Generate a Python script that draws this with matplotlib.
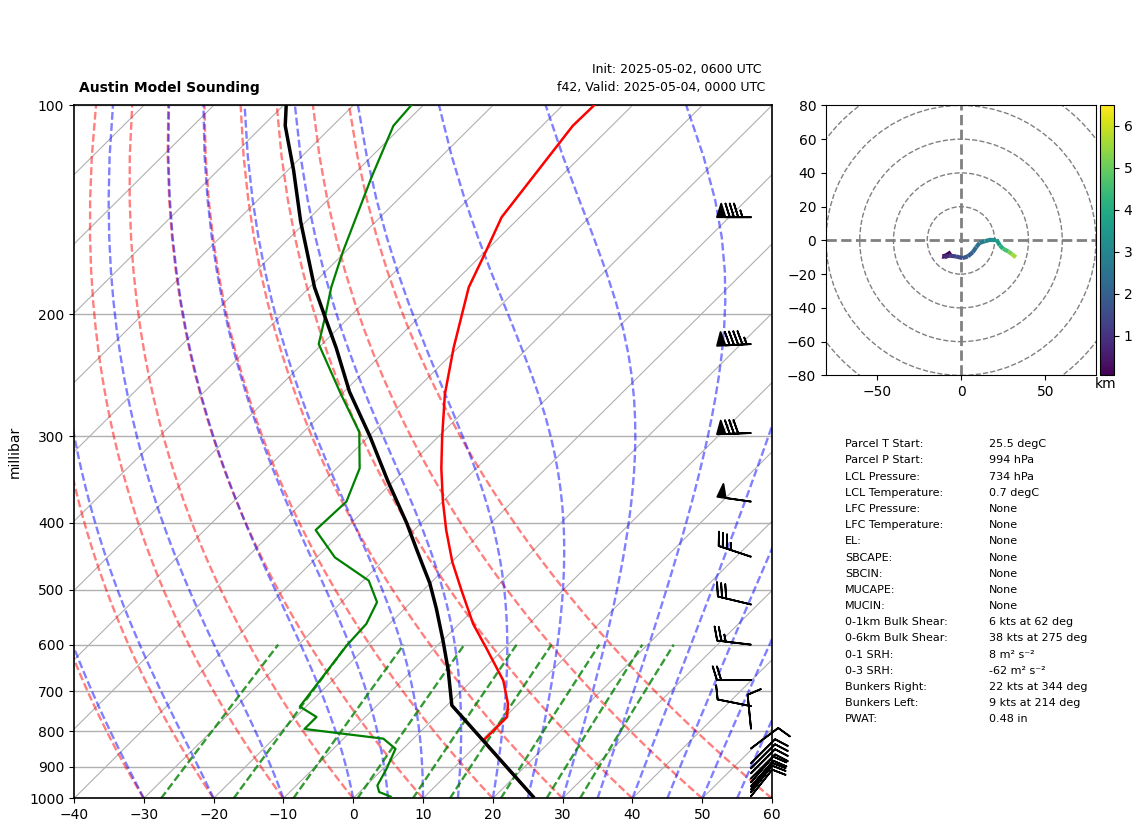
### Import Libraries -------------------------------------------------------

import numpy as np
import matplotlib

matplotlib.use("Agg")
import matplotlib.pyplot as plt
from matplotlib.collections import LineCollection
from matplotlib.patches import Circle
from matplotlib.transforms import Affine2D

### Sounding values ---------------------------------------------------------

# temperature profile
temp_p = [994, 891, 836, 823, 763, 730, 676, 608, 560, 501, 456, 410, 372, 334, 301, 261, 224, 183, 164, 145, 107, 100]
temp_t = [25.5, 16.5, 11.3, 10.3, 10.3, 8.5, 4.5, -2.5, -8.0, -14.5, -19.9, -25.4, -30.1, -35.0, -39.4, -45.2, -50.6, -57.2, -59.7, -62.6, -65.6, -65.5]

# dewpoint profile
dewp_p = [994, 979, 958, 906, 848, 820, 794, 763, 737, 601, 560, 521, 485, 449, 410, 373, 334, 296, 261, 221, 202, 183, 163, 127, 107, 100]
dewp_t = [5.1, 2.8, 1.6, 0.5, -1.1, -4.3, -17.0, -17.0, -20.9, -23.0, -23.3, -24.9, -29.2, -37.4, -44.1, -43.8, -46.7, -52.0, -60.1, -70.5, -73.5, -76.9, -80.3, -87.0, -91.3, -91.7]

# parcel path
parcel_p = [994, 734, 653, 592, 532, 489, 463, 439, 401, 348, 301, 259, 224, 202, 183, 147, 124, 107, 100]
parcel_t = [25.5, 0.7, -4.9, -9.9, -15.5, -20.1, -23.4, -26.6, -32.0, -40.9, -49.7, -59.2, -67.4, -73.5, -79.3, -90.8, -99.2, -106.8, -109.6]

# wind barbs
barb_p = [145, 221, 297, 373, 448, 525, 600, 675, 736, 793, 847, 890, 905, 920, 936, 948, 961, 971, 980, 993]
barb_u = [85, 95, 80, 49.5, 33, 29, 25, 20, 10, 1, -8, -7, -7, -7, -7, -6.5, -6.5, -6.2, -6.2, -6.2]
barb_v = [0, 5, 3, -7, -11, -7, -3, 0, -2, -10, -6, -7, -7, -7, -7, -7.5, -7.5, -7.8, -7.8, -7.8]

# hodograph
hodo_u = [-6, -9, -11, -10, -7, -3, 1, 4, 7, 9, 11, 14, 18, 21, 23, 25, 28, 30, 32.5]
hodo_v = [-7, -9, -9.5, -10, -9, -9.5, -10.5, -9.5, -7, -4, -1.5, -0.5, 0.5, 0.5, -3, -5, -6.5, -8, -10]
hodo_h = [0.1, 0.3, 0.5, 0.8, 1.2, 1.5, 1.8, 2.0, 2.2, 2.4, 2.7, 3.0, 3.3, 3.6, 4.1, 4.6, 5.1, 5.6, 6.3]
hodo_rings = [20, 40, 60, 80, 100]

# background lines
isotherm_t = list(range(-150, 70, 10))
dry_t0 = [-40, -30, -20, -10, 0, 10, 20, 30, 40, 50, 60]
moist_t0 = [-40, -30, -20, -10, 0, 5, 10, 15, 20, 25, 30, 35, 40, 45, 50, 55, 60]
mixing_w = [0.0004, 0.001, 0.002, 0.004, 0.007, 0.01, 0.016, 0.024, 0.032]

# stats table
table_names = [
    "Parcel T Start:", "Parcel P Start:", "LCL Pressure:", "LCL Temperature:",
    "LFC Pressure:", "LFC Temperature:", "EL:", "SBCAPE:", "SBCIN:", "MUCAPE:",
    "MUCIN:", "0-1km Bulk Shear:", "0-6km Bulk Shear:", "0-1 SRH:", "0-3 SRH:",
    "Bunkers Right:", "Bunkers Left:", "PWAT:",
]
table_values = [
    "25.5 degC", "994 hPa", "734 hPa", "0.7 degC", "None", "None", "None", "None",
    "None", "None", "None", "6 kts at 62 deg", "38 kts at 275 deg", "8 m² s⁻²",
    "-62 m² s⁻²", "22 kts at 344 deg", "9 kts at 214 deg", "0.48 in",
]

### Thermodynamics for the background lines ---------------------------------


def moist_lapse(t0_c, pres):
    # RK4 steps of the saturated lapse rate, in log pressure
    def slope(t, lnp):
        es = 6.112 * np.exp(17.67 * (t - 273.15) / (t - 29.65))
        rs = 0.622 * es / (np.exp(lnp) - es)
        return (287.0 * t + 2.501e6 * rs) / (1005.0 + 2.501e6**2 * rs * 0.622 / (287.0 * t**2))

    out = [t0_c + 273.15]
    lnp = np.log(pres)
    for i in range(len(pres) - 1):
        h = lnp[i + 1] - lnp[i]
        t = out[-1]
        k1 = slope(t, lnp[i])
        k2 = slope(t + h * k1 / 2, lnp[i] + h / 2)
        k3 = slope(t + h * k2 / 2, lnp[i] + h / 2)
        k4 = slope(t + h * k3, lnp[i] + h)
        out.append(t + h * (k1 + 2 * k2 + 2 * k3 + k4) / 6)
    return np.array(out) - 273.15


### Figure -------------------------------------------------------------------

W, H = 1142, 832
fig = plt.figure(figsize=(W / 100, H / 100), dpi=100)


def px_axes(left, top, right, bottom):
    return fig.add_axes([left / W, 1 - bottom / H, (right - left) / W, (bottom - top) / H])


ax = px_axes(74, 105.4, 772, 798.4)
ax.set_yscale("log")
ax.set_xlim(-40, 60)
ax.set_ylim(1000, 100)

# isotherms lean over 45 degrees in axes space
skew = ax.transScale + ax.transLimits + Affine2D().skew_deg(45, 0) + ax.transAxes

pres = np.linspace(1000, 100, 50)
for t0 in isotherm_t:
    ax.plot([t0, t0], [1000, 100], color="#b0b0b0", lw=0.8, transform=skew, zorder=1)
for t0 in dry_t0:
    ax.plot((t0 + 273.15) * (pres / 1000) ** 0.2857 - 273.15, pres, color="r", alpha=0.5,
            lw=1.7, ls=(0, (3.3, 1.4)), transform=skew, zorder=1.5)
for t0 in moist_t0:
    ax.plot(moist_lapse(t0, pres), pres, color="b", alpha=0.5, lw=1.7, ls=(0, (3.3, 1.4)),
            transform=skew, zorder=1.5)
pres_mix = np.linspace(1000, 600, 20)
for w in mixing_w:
    ln_e = np.log(pres_mix * w / (0.622 + w) / 6.112)
    ax.plot(243.5 * ln_e / (17.67 - ln_e), pres_mix, color="g", alpha=0.8, lw=1.7,
            ls=(0, (3.3, 1.4)), transform=skew, zorder=1.5)

ax.plot(temp_t, temp_p, color="r", lw=1.8, transform=skew, zorder=3)
ax.plot(dewp_t, dewp_p, color="g", lw=1.6, transform=skew, zorder=3)
ax.plot(parcel_t, parcel_p, color="k", lw=2.5, transform=skew, zorder=3.1)

ax.barbs(np.full(len(barb_p), (751 - 74) / 698), barb_p, barb_u, barb_v, length=7,
         color="k", linewidth=1.3, transform=ax.get_yaxis_transform(), clip_on=False, zorder=4)

ax.set_yticks(list(range(100, 1100, 100)))
ax.set_yticklabels([str(p) for p in range(100, 1100, 100)])
ax.minorticks_off()
ax.set_xticks(list(range(-40, 70, 10)))
ax.yaxis.grid(True, color="#b0b0b0", lw=1)
ax.set_axisbelow(True)
ax.set_ylabel("millibar", fontsize=10)
ax.yaxis.set_label_coords((22 - 74) / 698, 0.5)
for side in ["left", "right", "top", "bottom"]:
    ax.spines[side].set_linewidth(1.2)

fig.text(79 / W, 1 - 88 / H, "Austin Model Sounding", fontsize=10, fontweight="bold", va="center")
fig.text(592.5 / W, 1 - 70 / H, "Init: 2025-05-02, 0600 UTC", fontsize=9, va="center")
fig.text(557 / W, 1 - 88 / H, "f42, Valid: 2025-05-04, 0000 UTC", fontsize=9, va="center")

### Hodograph ----------------------------------------------------------------

hodo = px_axes(826, 105.4, 1096, 375.4)
hodo.set_xlim(-80, 80)
hodo.set_ylim(-80, 80)
for r in hodo_rings:
    hodo.add_patch(Circle((0, 0), r, fill=False, edgecolor="grey", ls="--", lw=1))
hodo.axhline(0, color="grey", ls="--", lw=2)
hodo.axvline(0, color="grey", ls="--", lw=2)
hodo.set_xticks([-50, 0, 50])
hodo.set_yticks(list(range(-80, 100, 20)))

points = np.column_stack([hodo_u, hodo_v]).reshape(-1, 1, 2)
segments = np.concatenate([points[:-1], points[1:]], axis=1)
lc = LineCollection(segments, cmap="viridis", norm=plt.Normalize(0.05, 6.48), lw=3, zorder=3)
lc.set_array(np.array(hodo_h[:-1]))
hodo.add_collection(lc)

cax = px_axes(1100, 105.4, 1114, 375.4)
fig.colorbar(lc, cax=cax, ticks=[1, 2, 3, 4, 5, 6])
fig.text(1106 / W, 1 - 384 / H, "km", fontsize=10, ha="center", va="center")

### Stats table --------------------------------------------------------------

for i in range(len(table_names)):
    y = 1 - (444.3 + i * 16.18) / H
    fig.text(845 / W, y, table_names[i], fontsize=8, va="center")
    fig.text(989 / W, y, table_values[i], fontsize=8, va="center")

fig.savefig("out.png", dpi=100)
